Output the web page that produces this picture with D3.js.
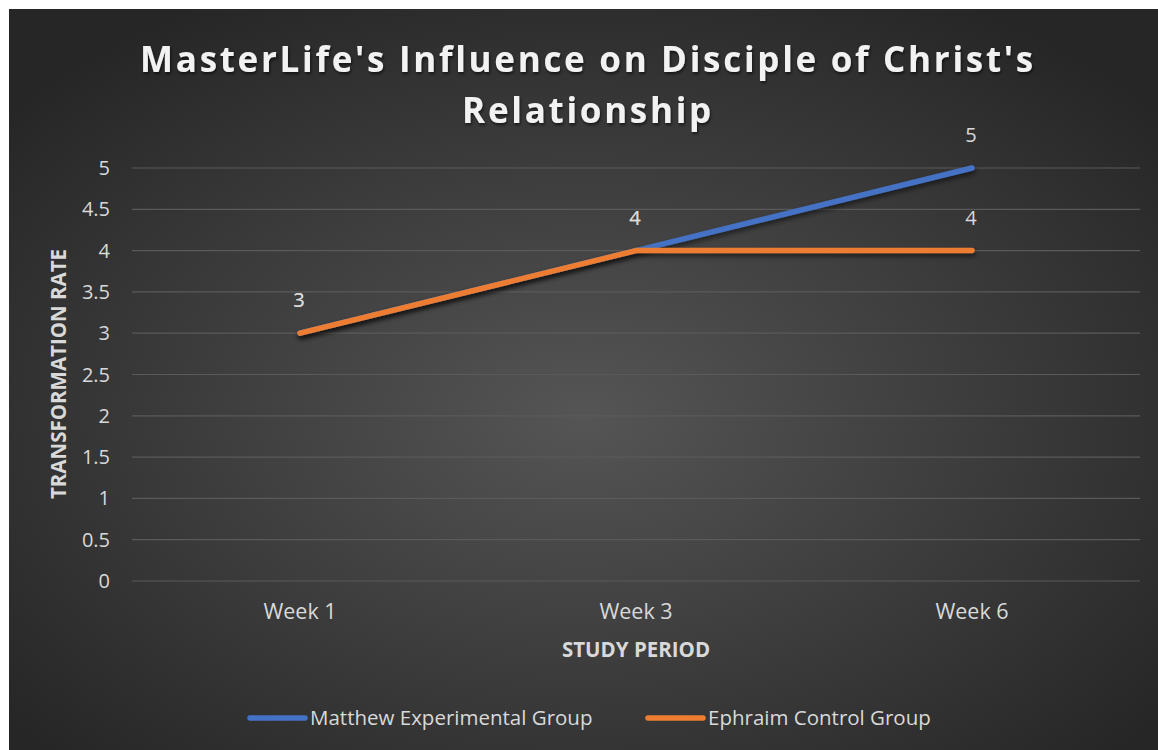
<!DOCTYPE html>
<meta charset="utf-8">
<style>
body { margin: 0; background: #fff; }
text { font-family: "Open Sans", sans-serif; }
</style>
<body>
<div class="chart"></div>
<script src="https://cdn.jsdelivr.net/npm/d3@7"></script>
<script>
var categories = ["Week 1", "Week 3", "Week 6"];
var matthew = [3, 4, 5];
var ephraim = [3, 4, 4];
var yTicks = [0, 0.5, 1, 1.5, 2, 2.5, 3, 3.5, 4, 4.5, 5];
var seriesNames = ["Matthew Experimental Group", "Ephraim Control Group"];
var seriesColors = ["#4472C4", "#ED7D31"];

var width = 1158, height = 750;
var svg = d3.select(".chart").append("svg")
    .attr("width", width).attr("height", height);

var defs = svg.append("defs");
var grad = defs.append("radialGradient").attr("id", "bg")
    .attr("cx", "50%").attr("cy", "55%").attr("r", "65%");
grad.append("stop").attr("offset", "0%").attr("stop-color", "#555555");
grad.append("stop").attr("offset", "100%").attr("stop-color", "#262626");

var shadow = defs.append("filter").attr("id", "shadow")
    .attr("x", "-10%").attr("y", "-10%").attr("width", "120%").attr("height", "130%");
shadow.append("feDropShadow").attr("dx", 1).attr("dy", 3).attr("stdDeviation", 2.5)
    .attr("flood-color", "#000").attr("flood-opacity", 0.55);

var tshadow = defs.append("filter").attr("id", "tshadow");
tshadow.append("feDropShadow").attr("dx", 1).attr("dy", 2).attr("stdDeviation", 1.5)
    .attr("flood-color", "#000").attr("flood-opacity", 0.6);

svg.append("rect").attr("x", 9).attr("y", 9)
    .attr("width", width - 9).attr("height", height - 9)
    .attr("fill", "url(#bg)");

var x = d3.scaleBand().domain(categories).range([132, 1140]);
var y = d3.scaleLinear().domain([0, 5]).range([581, 168]);

// gridlines
svg.append("g").selectAll("line").data(yTicks).enter().append("line")
    .attr("x1", 132).attr("x2", 1140)
    .attr("y1", function(d) { return y(d); })
    .attr("y2", function(d) { return y(d); })
    .attr("stroke", "#5a5a5a").attr("stroke-width", 1.2);

// y tick labels
svg.append("g").selectAll("text").data(yTicks).enter().append("text")
    .attr("x", 110).attr("y", function(d) { return y(d); })
    .attr("dy", "0.35em").attr("text-anchor", "end")
    .attr("fill", "#d9d9d9").style("font-size", "20px")
    .text(function(d) { return d; });

// x tick labels
svg.append("g").selectAll("text").data(categories).enter().append("text")
    .attr("x", function(d) { return x(d) + x.bandwidth() / 2; })
    .attr("y", 619).attr("text-anchor", "middle")
    .attr("fill", "#d9d9d9").style("font-size", "21.5px")
    .text(function(d) { return d; });

// axis titles
svg.append("text").attr("x", 636).attr("y", 657).attr("text-anchor", "middle")
    .attr("fill", "#d9d9d9").style("font-size", "20.5px").style("font-weight", "bold")
    .text("STUDY PERIOD");
svg.append("text").attr("transform", "translate(66,374) rotate(-90)")
    .attr("text-anchor", "middle")
    .attr("fill", "#d9d9d9").style("font-size", "20.5px").style("font-weight", "bold")
    .text("TRANSFORMATION RATE");

// title
var title = svg.append("text").attr("text-anchor", "middle")
    .attr("fill", "#f2f2f2").style("font-size", "35px").style("font-weight", "bold")
    .style("letter-spacing", "2.7px").attr("filter", "url(#tshadow)");
title.append("tspan").attr("x", 588).attr("y", 72).text("MasterLife's Influence on Disciple of Christ's");
title.append("tspan").attr("x", 588).attr("y", 123).text("Relationship");

// lines
var line = d3.line()
    .x(function(d, i) { return x(categories[i]) + x.bandwidth() / 2; })
    .y(function(d) { return y(d); });

[matthew, ephraim].forEach(function(s, k) {
    svg.append("path").datum(s).attr("d", line)
        .attr("fill", "none").attr("stroke", seriesColors[k])
        .attr("stroke-width", 5.5).attr("stroke-linecap", "round")
        .attr("stroke-linejoin", "round").attr("filter", "url(#shadow)");
});

// data labels
[matthew, ephraim].forEach(function(s) {
    svg.append("g").selectAll("text").data(s).enter().append("text")
        .attr("x", function(d, i) { return x(categories[i]) + x.bandwidth() / 2 - 1; })
        .attr("y", function(d) { return y(d) - 26; })
        .attr("text-anchor", "middle")
        .attr("fill", "#d9d9d9").style("font-size", "20px")
        .text(function(d) { return d; });
});

// legend
var legend = svg.append("g");
var legendX = [250, 648];
seriesNames.forEach(function(n, k) {
    legend.append("line").attr("x1", legendX[k]).attr("x2", legendX[k] + 55)
        .attr("y1", 718).attr("y2", 718)
        .attr("stroke", seriesColors[k]).attr("stroke-width", 5.5)
        .attr("stroke-linecap", "round");
    legend.append("text").attr("x", legendX[k] + 60).attr("y", 718)
        .attr("dy", "0.35em").attr("fill", "#d9d9d9").style("font-size", "20.5px")
        .text(n);
});
</script>
</body>
